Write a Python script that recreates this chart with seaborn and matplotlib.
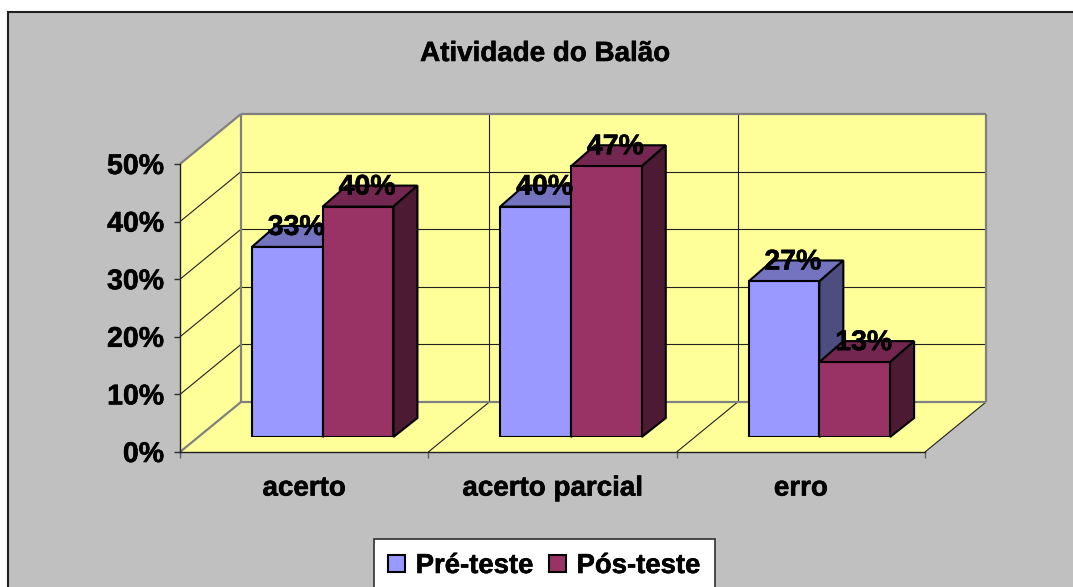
import matplotlib
matplotlib.use('Agg')
import numpy as np
import pandas as pd
import seaborn as sns
import matplotlib.pyplot as plt
import matplotlib.patheffects as pe
from matplotlib.patches import Polygon, Patch, Rectangle
from matplotlib.transforms import IdentityTransform

categorias = ['acerto', 'acerto parcial', 'erro']
pre_teste = [33, 40, 27]
pos_teste = [40, 47, 13]
y_ticks = [0, 10, 20, 30, 40, 50]
series = ['Pré-teste', 'Pós-teste']

W, H = 1073, 587
cor_pre, cor_pos = '#9999FF', '#993366'
cores_topo = {cor_pre: '#7373BF', cor_pos: '#732650'}
cores_lado = {cor_pre: '#4D4D80', cor_pos: '#4D1A33'}
FS = 20.5
FS_CAT = 20
grosso = [pe.withStroke(linewidth=0.4, foreground='black')]

sns.set_style('white')
plt.rcParams['font.family'] = ['Liberation Sans', 'DejaVu Sans']
plt.rcParams['font.weight'] = 'bold'
plt.rcParams['text.color'] = 'black'
plt.rcParams['xtick.labelcolor'] = 'black'
plt.rcParams['ytick.labelcolor'] = 'black'


def area(x0, y_top, x1, y_bottom):
    # pixel box of the reference -> figure fractions
    return [x0 / W, 1 - y_bottom / H, (x1 - x0) / W, (y_bottom - y_top) / H]


fig = plt.figure(figsize=(W / 100, H / 100), dpi=100, facecolor='white')
fig.add_artist(Rectangle((8 / W, -0.05), 1.1, 1.05 - 12 / H, transform=fig.transFigure,
                         facecolor='#C0C0C0', edgecolor='#202020', linewidth=1.5))

# front plane of the box: holds the axes, walls are pushed back from it
ax = fig.add_axes(area(180, 164, 925, 452), zorder=1)
ax.patch.set_visible(False)
ax.set_xlim(-0.5, 2.5)
ax.set_ylim(0, 50)
ax.set_yticks(y_ticks)
ax.set_yticklabels([f'{v}%' for v in y_ticks], fontsize=FS, fontweight='bold',
                   color='black', path_effects=grosso)
ax.set_xticks([-0.5, 0.5, 1.5, 2.5])
ax.set_xticklabels([])
ax.set_xticks(range(3), categorias, minor=True, fontsize=FS_CAT, fontweight='bold',
              color='black', path_effects=grosso)
ax.tick_params(axis='x', which='major', length=4.5, width=1, color='#606060', bottom=True)
ax.tick_params(axis='x', which='minor', length=0, pad=17)
ax.tick_params(axis='y', length=4.5, width=1, color='#303030', left=True, pad=7)
for s in ['top', 'right']:
    ax.spines[s].set_visible(False)
for s in ['left', 'bottom']:
    ax.spines[s].set_color('#202020')
    ax.spines[s].set_linewidth(1)
    ax.spines[s].set_zorder(4)

fig.canvas.draw()
back = np.array([61, 50])


def frente(x, y):
    return ax.transData.transform((x, y))


def fundo(x, y):
    return frente(x, y) + back


def parede(pts):
    ax.add_patch(Polygon(pts, closed=True, facecolor='#FFFF99', edgecolor='none',
                         transform=IdentityTransform(), clip_on=False, zorder=0))


def linha(a, b, cor, lw):
    ax.plot([a[0], b[0]], [a[1], b[1]], color=cor, lw=lw, transform=IdentityTransform(),
            clip_on=False, zorder=1, solid_capstyle='butt')


parede([fundo(-0.5, 0), fundo(2.5, 0), fundo(2.5, 50), fundo(-0.5, 50)])
parede([frente(-0.5, 0), fundo(-0.5, 0), fundo(-0.5, 50), frente(-0.5, 50)])
parede([frente(-0.5, 0), frente(2.5, 0), fundo(2.5, 0), fundo(-0.5, 0)])

for v in y_ticks[1:-1]:
    linha(frente(-0.5, v), fundo(-0.5, v), '#202020', 0.8)
    linha(fundo(-0.5, v), fundo(2.5, v), '#202020', 0.8)
for x in [0.5, 1.5]:
    linha(frente(x, 0), fundo(x, 0), '#202020', 0.8)
    linha(fundo(x, 0), fundo(x, 50), '#202020', 0.8)
linha(frente(2.5, 0), fundo(2.5, 0), '#202020', 0.8)

# gray outline of the walls
cinza = '#808080'
linha(frente(-0.5, 0), fundo(-0.5, 0), cinza, 1.6)
linha(frente(-0.5, 50), fundo(-0.5, 50), cinza, 1.6)
linha(fundo(-0.5, 0), fundo(-0.5, 50), cinza, 1.6)
linha(fundo(-0.5, 50), fundo(2.5, 50), cinza, 1.6)
linha(fundo(2.5, 50), fundo(2.5, 0), cinza, 1.6)
linha(fundo(-0.5, 0), fundo(2.5, 0), cinza, 1.6)

# bars sit a little inside the box
ax_bar = fig.add_axes(area(198.5, 149, 943.5, 437), zorder=2)
ax_bar.patch.set_visible(False)
df = pd.DataFrame({
    'categoria': categorias * 2,
    'valor': pre_teste + pos_teste,
    'serie': [series[0]] * 3 + [series[1]] * 3,
})
sns.barplot(data=df, x='categoria', y='valor', hue='serie', palette=[cor_pre, cor_pos],
            width=0.57, gap=0, saturation=1, edgecolor='black', linewidth=1.5,
            legend=False, ax=ax_bar)
ax_bar.set_xlim(-0.5, 2.5)
ax_bar.set_ylim(0, 50)
ax_bar.axis('off')

d_cima = np.array([24, 21])
d_baixo = np.array([24, 19])
for n, bar in enumerate(b for c in ax_bar.containers for b in c):
    x0, x1 = bar.get_x(), bar.get_x() + bar.get_width()
    h = bar.get_height()
    cor = cor_pre if n < 3 else cor_pos
    z = 3 if n < 3 else 6
    bar.set_zorder(z + 1)
    t = ax_bar.transData
    a, b, c = t.transform((x0, h)), t.transform((x1, h)), t.transform((x1, 0))
    ax_bar.add_patch(Polygon([a, b, b + d_cima, a + d_cima], facecolor=cores_topo[cor], edgecolor='black',
                             linewidth=1.5, transform=IdentityTransform(), zorder=z, clip_on=False))
    ax_bar.add_patch(Polygon([b, c, c + d_baixo, b + d_cima], facecolor=cores_lado[cor], edgecolor='black',
                             linewidth=1.5, transform=IdentityTransform(), zorder=z, clip_on=False))
    ax_bar.annotate(f'{h:.0f}%', xy=((x0 + x1) / 2, h), xytext=(9, 19), textcoords='offset pixels',
                    ha='center', va='center', fontsize=FS, fontweight='bold', color='black',
                    zorder=10, annotation_clip=False, path_effects=grosso)

fig.text(545 / W, 1 - 54 / H, 'Atividade do Balão', ha='center', va='center',
         fontsize=20, fontweight='bold', color='black', path_effects=grosso)

handles = [Patch(facecolor=cor_pre, edgecolor='black', linewidth=1.5),
           Patch(facecolor=cor_pos, edgecolor='black', linewidth=1.5)]
leg = fig.legend(handles, series, ncol=2, loc='center', bbox_to_anchor=(544.5 / W, 1 - 566 / H),
                 frameon=True, fancybox=False, framealpha=1, edgecolor='#303030', facecolor='white',
                 prop={'size': 19.8, 'weight': 'bold'}, handlelength=0.6, handleheight=0.6,
                 handletextpad=0.4, columnspacing=0.55, borderpad=0.5, borderaxespad=0)
leg.get_frame().set_linewidth(1.2)
for txt in leg.get_texts():
    txt.set_color('black')
    txt.set_path_effects(grosso)

fig.savefig('out.png', dpi=100, facecolor=fig.get_facecolor())
